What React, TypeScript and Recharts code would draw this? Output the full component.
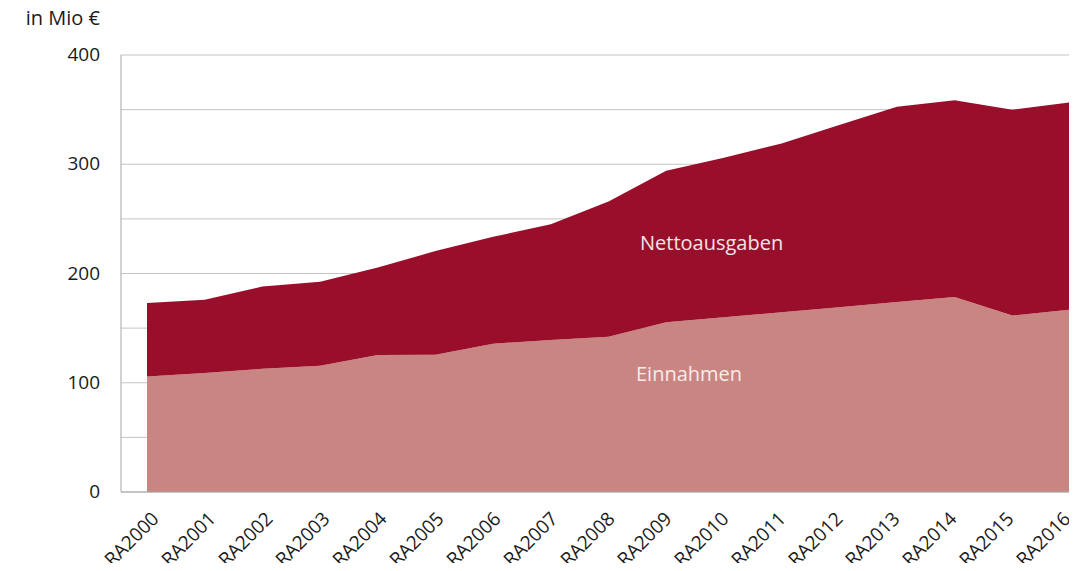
import { AreaChart, Area, XAxis, YAxis, CartesianGrid } from 'recharts';

const years = [
  'RA2000', 'RA2001', 'RA2002', 'RA2003', 'RA2004', 'RA2005', 'RA2006', 'RA2007', 'RA2008',
  'RA2009', 'RA2010', 'RA2011', 'RA2012', 'RA2013', 'RA2014', 'RA2015', 'RA2016',
];
const einnahmen = [105.8, 108.9, 112.8, 115.6, 125.4, 125.7, 135.8, 139.2, 142, 155.3, 160, 164.5, 169, 174, 178.5, 161.5, 167];
const nettoausgaben = [67.3, 67.1, 75.2, 76.8, 80.1, 94.8, 97.8, 105.8, 124, 138.7, 146, 154.5, 167, 178.6, 180, 188.3, 189.6];
const yTicks = [0, 50, 100, 150, 200, 250, 300, 350, 400];

const data = years.map((label, i) => ({ label, einnahmen: einnahmen[i], netto: nettoausgaben[i] }));

const FONT = '"Open Sans", sans-serif';
const DARK = '#990f2b';
const LIGHT = '#c98581';

function XTick({ x, payload }: { x?: number; y?: number; payload?: { value: string; index: number } }) {
  // labels drift a little left of the points towards the right end, like the original
  const dx = 13 - 0.7 * (payload?.index ?? 0);
  return (
    <text
      transform={`translate(${(x ?? 0) + dx},${520}) rotate(-45)`}
      textAnchor="end"
      fontSize={19}
      fontFamily={FONT}
      fill="#1a1a1a"
    >
      {payload?.value}
    </text>
  );
}

function YTick({ y, payload }: { x?: number; y?: number; payload?: { value: number } }) {
  if (!payload || payload.value % 100 !== 0) return null;
  return (
    <text x={100} y={(y ?? 0) + 6} textAnchor="end" fontSize={19} fontFamily={FONT} fill="#1a1a1a">
      {payload.value}
    </text>
  );
}

export default function App() {
  return (
    <div style={{ position: 'relative', width: 1077, height: 571, margin: -8, fontFamily: FONT }}>
      <AreaChart width={1077} height={571} data={data} margin={{ top: 55, right: 6, bottom: 0, left: 0 }}>
        <CartesianGrid horizontal vertical={false} stroke="#c4c4c4" />
        <XAxis
          dataKey="label"
          height={79}
          padding={{ left: 26, right: 1 }}
          tick={<XTick />}
          tickLine={false}
          axisLine={{ stroke: '#a6a6a6' }}
          interval={0}
        />
        <YAxis
          width={121}
          domain={[0, 400]}
          ticks={yTicks}
          tick={<YTick />}
          tickLine={false}
          axisLine={{ stroke: '#a6a6a6' }}
        />
        <Area type="linear" dataKey="einnahmen" stackId="a" fill={LIGHT} fillOpacity={1} stroke="none" isAnimationActive={false} />
        <Area type="linear" dataKey="netto" stackId="a" fill={DARK} fillOpacity={1} stroke="none" isAnimationActive={false} />
      </AreaChart>
      <span style={{ position: 'absolute', right: 1077 - 100, top: 4, fontSize: 20, color: '#1a1a1a', whiteSpace: 'nowrap' }}>
        in Mio €
      </span>
      <span style={{ position: 'absolute', left: 640, top: 229, fontSize: 20, color: '#f3e4e7', whiteSpace: 'nowrap' }}>
        Nettoausgaben
      </span>
      <span style={{ position: 'absolute', left: 636, top: 360, fontSize: 20, color: '#f7ecea', whiteSpace: 'nowrap' }}>
        Einnahmen
      </span>
    </div>
  );
}
